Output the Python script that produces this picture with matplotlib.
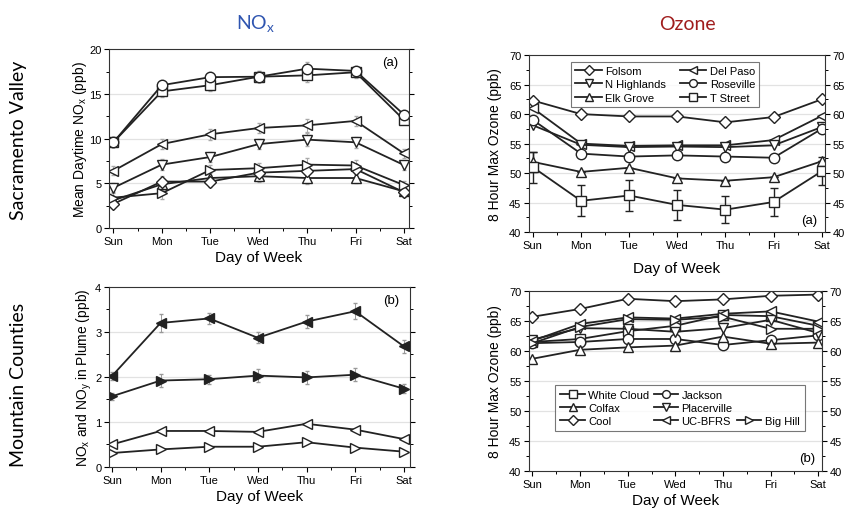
import matplotlib
matplotlib.use("Agg")
import matplotlib.pyplot as plt
from matplotlib.lines import Line2D
from matplotlib.ticker import MultipleLocator
import numpy as np

plt.rcParams['font.family'] = ['Liberation Sans', 'DejaVu Sans']

days = ["Sun", "Mon", "Tue", "Wed", "Thu", "Fri", "Sat"]

# ---- (a) NOx, Sacramento Valley ----
nox_sv_circle = [9.6, 16.0, 16.9, 16.95, 17.85, 17.6, 12.7]
nox_sv_square = [9.6, 15.3, 16.0, 16.95, 17.1, 17.45, 12.1]
nox_sv_ltri = [6.4, 9.4, 10.5, 11.2, 11.5, 12.0, 8.35]
nox_sv_dtri = [4.5, 7.1, 7.95, 9.4, 9.9, 9.6, 7.05]
nox_sv_rtri = [3.4, 3.9, 6.5, 6.7, 7.1, 7.0, 4.8]
nox_sv_diam = [2.7, 5.2, 5.2, 6.2, 6.4, 6.6, 4.0]
nox_sv_utri = [3.1, 4.9, 5.6, 5.8, 5.6, 5.6, 4.1]
nox_sv_err = [0.5, 0.6, 0.6, 0.6, 0.7, 0.6, 0.5]

# ---- (a) Ozone, Sacramento Valley ----
o3_sv_sites = ["Folsom", "Del Paso", "N Highlands", "Roseville", "Elk Grove", "T Street"]
o3_folsom = [62.3, 60.0, 59.6, 59.6, 58.6, 59.5, 62.5]
o3_delpaso = [61.0, 55.0, 54.6, 54.7, 54.7, 55.6, 59.7]
o3_nhigh = [58.1, 54.8, 54.4, 54.5, 54.4, 54.7, 57.8]
o3_roseville = [59.0, 53.3, 52.8, 53.0, 52.8, 52.6, 57.5]
o3_elkgrove = [51.9, 50.2, 50.9, 49.1, 48.7, 49.3, 52.0]
o3_tstreet = [51.0, 45.3, 46.2, 44.6, 43.8, 45.1, 50.3]
o3_elkgrove_err = [1.7, 0, 0, 0, 0, 0, 0]
o3_tstreet_err = [2.6, 2.6, 2.7, 2.6, 2.3, 2.4, 2.4]

# ---- (b) NOx / NOy in plume, Mountain Counties ----
plume_filled_l = [2.02, 3.2, 3.3, 2.87, 3.23, 3.46, 2.68]
plume_filled_r = [1.57, 1.92, 1.95, 2.03, 1.99, 2.05, 1.74]
plume_open_l = [0.50, 0.80, 0.80, 0.78, 0.96, 0.83, 0.62]
plume_open_r = [0.31, 0.39, 0.45, 0.45, 0.55, 0.43, 0.34]
plume_filled_l_err = [0.08, 0.2, 0.12, 0.12, 0.15, 0.18, 0.15]
plume_filled_r_err = [0.08, 0.14, 0.1, 0.15, 0.14, 0.14, 0.1]

# ---- (b) Ozone, Mountain Counties ----
o3_mc_sites = ["White Cloud", "Jackson", "Colfax", "Placerville", "Cool", "UC-BFRS", "Big Hill"]
o3_whitecloud = [61.5, 62.0, 63.3, 64.2, 66.0, 65.8, 64.2]
o3_jackson = [61.3, 61.5, 62.0, 62.0, 61.0, 61.8, 62.6]
o3_colfax = [58.7, 60.2, 60.6, 60.9, 62.4, 61.2, 61.4]
o3_placerville = [61.9, 63.8, 63.7, 63.2, 63.8, 65.2, 63.0]
o3_cool = [65.7, 67.0, 68.7, 68.3, 68.6, 69.2, 69.4]
o3_ucbfrs = [61.7, 64.5, 65.6, 65.4, 66.2, 66.6, 64.9]
o3_bighill = [61.3, 64.0, 65.3, 65.2, 65.7, 63.7, 63.7]

x = np.arange(len(days))

fig = plt.figure(figsize=(8.47, 5.10), dpi=100)
ax1 = fig.add_axes([0.1287, 0.551, 0.354, 0.350])
ax2 = fig.add_axes([0.6246, 0.543, 0.3495, 0.347])
ax3 = fig.add_axes([0.1287, 0.0824, 0.355, 0.353])
ax4 = fig.add_axes([0.6246, 0.0745, 0.346, 0.353])

LC = "#222222"
MS = 7.5
LW = 1.3
mk = dict(color=LC, lw=LW, markersize=MS, markerfacecolor="white",
          markeredgecolor=LC, markeredgewidth=1.0)


def style_axis(ax, ymin, ymax, major, minor, right_labels=False):
    ax.set_xlim(-0.09, 6.1)
    ax.set_ylim(ymin, ymax)
    ax.set_xticks(x)
    ax.set_xticklabels(days, fontsize=8.3)
    ax.xaxis.set_minor_locator(MultipleLocator(0.5))
    ax.yaxis.set_major_locator(MultipleLocator(major))
    ax.yaxis.set_minor_locator(MultipleLocator(minor))
    ax.tick_params(axis="both", which="major", labelsize=8, length=3.5, width=0.8,
                   direction="out", right=True, labelright=right_labels, pad=2)
    ax.tick_params(axis="both", which="minor", length=2, width=0.7,
                   direction="out", right=True)
    for s in ax.spines.values():
        s.set_linewidth(0.8)
        s.set_color("#333333")
    for v in np.arange(ymin + major, ymax, major):
        ax.axhline(v, color="#e2e2e2", lw=0.9, zorder=0)
    ax.set_xlabel("Day of Week", fontsize=11, labelpad=3)


# Panel 1
style_axis(ax1, 0, 20, 5, 2.5)
err_kw = dict(ecolor="#aaaaaa", elinewidth=0.7, capsize=1.5, capthick=0.7)
ax1.errorbar(x, nox_sv_square, yerr=nox_sv_err, marker="s", **mk, **err_kw)
ax1.errorbar(x, nox_sv_circle, yerr=nox_sv_err, marker="o", **mk, **err_kw)
ax1.errorbar(x, nox_sv_ltri, yerr=nox_sv_err, marker="<", **mk, **err_kw)
ax1.errorbar(x, nox_sv_dtri, yerr=nox_sv_err, marker="v", **mk, **err_kw)
ax1.errorbar(x, nox_sv_utri, yerr=nox_sv_err, marker="^", **mk, **err_kw)
ax1.errorbar(x, nox_sv_diam, yerr=nox_sv_err, marker="D", **{**mk, "markersize": 6.3}, **err_kw)
ax1.errorbar(x, nox_sv_rtri, yerr=nox_sv_err, marker=">", **mk, **err_kw)
ax1.set_ylabel(r"Mean Daytime NO$_\mathregular{x}$ (ppb)", fontsize=10, labelpad=0)
ax1.text(0.965, 0.93, "(a)", transform=ax1.transAxes, ha="right", va="center", fontsize=9.5)

# Panel 2
style_axis(ax2, 40, 70, 5, 2.5, right_labels=True)
ax2.set_xlim(-0.08, 6.07)
h_folsom, = ax2.plot(x, o3_folsom, marker="D", **{**mk, "markersize": 6.3})
h_delpaso, = ax2.plot(x, o3_delpaso, marker="<", **mk)
h_nhigh, = ax2.plot(x, o3_nhigh, marker="v", **mk)
h_rose, = ax2.plot(x, o3_roseville, marker="o", **mk)
ax2.errorbar(x, o3_elkgrove, yerr=o3_elkgrove_err, marker="^", **mk,
             ecolor=LC, elinewidth=1.0, capsize=3, capthick=1.0)
ax2.errorbar(x, o3_tstreet, yerr=o3_tstreet_err, marker="s", **mk,
             ecolor=LC, elinewidth=1.0, capsize=3, capthick=1.0)
h_elk = Line2D([], [], marker="^", **mk)
h_tst = Line2D([], [], marker="s", **mk)
leg2 = ax2.legend([h_folsom, h_nhigh, h_elk, h_delpaso, h_rose, h_tst],
                  [o3_sv_sites[0], o3_sv_sites[2], o3_sv_sites[4],
                   o3_sv_sites[1], o3_sv_sites[3], o3_sv_sites[5]],
                  ncol=2, loc="upper center", bbox_to_anchor=(0.46, 0.995),
                  fontsize=8, frameon=True, fancybox=False, edgecolor="#555555",
                  handlelength=2.4, handletextpad=0.3, columnspacing=1.2,
                  labelspacing=0.3, borderpad=0.4, markerscale=0.75)
leg2.get_frame().set_linewidth(0.8)
ax2.set_ylabel("8 Hour Max Ozone (ppb)", fontsize=10, labelpad=5)
ax2.xaxis.labelpad = 8
ax2.text(0.975, 0.07, "(a)", transform=ax2.transAxes, ha="right", va="center", fontsize=9.5)

# Panel 3
style_axis(ax3, 0, 4, 1, 0.5)
ax3.set_xlim(-0.06, 6.12)
fmk = {**mk, "markerfacecolor": LC}
err3 = dict(ecolor="#999999", elinewidth=0.7, capsize=1.5, capthick=0.7)
ax3.errorbar(x, plume_filled_l, yerr=plume_filled_l_err, marker="<", **fmk, **err3)
ax3.errorbar(x, plume_filled_r, yerr=plume_filled_r_err, marker=">", **fmk, **err3)
ax3.plot(x, plume_open_l, marker="<", **mk)
ax3.plot(x, plume_open_r, marker=">", **mk)
ax3.set_ylabel(r"NO$_\mathregular{x}$ and NO$_\mathregular{y}$ in Plume (ppb)", fontsize=10, labelpad=1)
ax3.text(0.965, 0.93, "(b)", transform=ax3.transAxes, ha="right", va="center", fontsize=9.5)

# Panel 4
style_axis(ax4, 40, 70, 5, 2.5, right_labels=True)
ax4.set_xlim(-0.07, 6.08)
h_wc, = ax4.plot(x, o3_whitecloud, marker="s", **mk)
h_jk, = ax4.plot(x, o3_jackson, marker="o", **mk)
h_cf, = ax4.plot(x, o3_colfax, marker="^", **mk)
h_pv, = ax4.plot(x, o3_placerville, marker="v", **mk)
h_co, = ax4.plot(x, o3_cool, marker="D", **{**mk, "markersize": 6.3})
h_uc, = ax4.plot(x, o3_ucbfrs, marker="<", **mk)
h_bh, = ax4.plot(x, o3_bighill, marker=">", **mk)
blank = Line2D([], [], linestyle="none", marker="none")
leg4 = ax4.legend([h_wc, h_cf, h_co, h_jk, h_pv, h_uc, blank, blank, h_bh],
                  [o3_mc_sites[0], o3_mc_sites[2], o3_mc_sites[4],
                   o3_mc_sites[1], o3_mc_sites[3], o3_mc_sites[5],
                   "", "", o3_mc_sites[6]],
                  ncol=3, loc="center", bbox_to_anchor=(0.515, 0.35),
                  fontsize=8, frameon=True, fancybox=False, edgecolor="#555555",
                  handlelength=2.2, handletextpad=0.3, columnspacing=0.4,
                  labelspacing=0.25, borderpad=0.45, markerscale=0.75)
leg4.get_frame().set_linewidth(0.8)
ax4.set_ylabel("8 Hour Max Ozone (ppb)", fontsize=10, labelpad=5)
ax4.text(0.975, 0.07, "(b)", transform=ax4.transAxes, ha="right", va="center", fontsize=9.5)

# Row / column titles
title_font = ["Lato", "DejaVu Sans"]
fig.text(0.302, 0.953, r"NO$_\mathregular{x}$", color="#2f55b0", fontsize=14,
         family=title_font, ha="center", va="center")
fig.text(0.812, 0.951, "Ozone", color="#a01d1d", fontsize=14,
         family=title_font, ha="center", va="center")
fig.text(0.022, 0.725, "Sacramento Valley", rotation=90, fontsize=14,
         family=title_font, ha="center", va="center")
fig.text(0.022, 0.245, "Mountain Counties", rotation=90, fontsize=14,
         family=title_font, ha="center", va="center")

fig.savefig("out.png", dpi=100, facecolor="white")
